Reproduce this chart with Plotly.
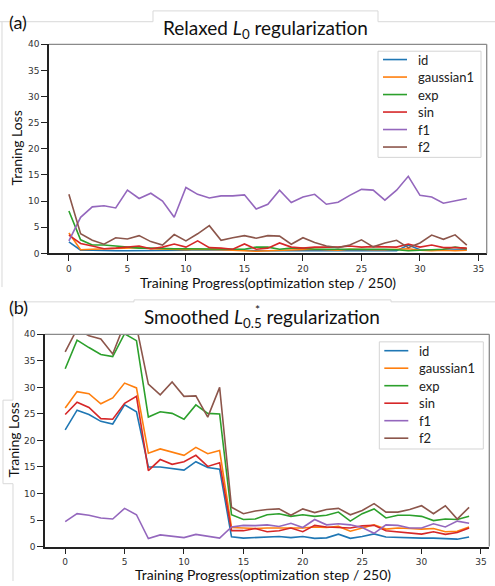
import plotly.graph_objects as go

W, H = 495, 586

steps = list(range(35))
series_names = ["id", "gaussian1", "exp", "sin", "f1", "f2"]
series_colors = ["#1f77b4", "#ff7f0e", "#2ca02c", "#d62728", "#9467bd", "#8c564b"]
x_ticks = [0, 5, 10, 15, 20, 25, 30, 35]
y_ticks = [0, 5, 10, 15, 20, 25, 30, 35, 40]

# ---- (a) Relaxed L0 regularization ----
a_id = [2.2, 0.6, 0.6, 0.5, 0.5, 0.5, 0.5, 0.5, 0.6, 0.6, 0.6, 0.7, 0.7, 0.7, 0.6, 0.6, 0.5, 0.5,
        0.6, 0.6, 0.5, 0.5, 0.6, 0.6, 0.6, 0.5, 0.6, 0.6, 0.5, 1.6, 0.7, 0.6, 0.6, 0.6, 0.7]
a_gaussian1 = [3.9, 0.7, 0.8, 0.9, 0.9, 1.0, 1.1, 0.9, 0.8, 0.7, 0.7, 0.8, 0.8, 0.7, 0.6, 0.5, 0.4, 0.5,
               0.6, 0.7, 0.8, 0.8, 0.7, 0.6, 0.8, 0.7, 0.7, 0.7, 0.8, 0.9, 0.6, 0.5, 0.6, 0.5, 0.6]
a_exp = [8.1, 2.6, 1.6, 1.6, 1.4, 1.2, 1.0, 1.0, 0.9, 0.9, 0.9, 0.9, 0.9, 0.8, 0.8, 0.8, 1.2, 1.2,
         0.8, 1.0, 1.0, 0.8, 0.8, 0.8, 0.9, 0.8, 0.8, 0.8, 0.7, 0.5, 0.6, 0.7, 0.8, 1.2, 0.9]
a_sin = [3.5, 1.9, 1.4, 0.9, 1.0, 1.2, 1.4, 0.9, 1.2, 1.8, 1.2, 2.4, 1.1, 1.0, 0.8, 1.8, 0.8, 1.0,
         2.0, 1.2, 1.0, 1.2, 1.2, 1.2, 1.4, 1.2, 1.3, 1.3, 1.2, 1.8, 1.2, 1.6, 1.1, 1.1, 1.0]
a_f1 = [2.4, 6.9, 8.9, 9.1, 8.7, 12.1, 10.5, 11.5, 10.0, 6.9, 12.6, 11.3, 10.6, 11.0, 11.0, 11.2, 8.5, 9.4,
        12.1, 9.75, 10.8, 11.3, 9.4, 9.8, 11.1, 12.25, 12.1, 10.2, 12.1, 14.75, 11.1, 10.8, 9.6, 10.0, 10.5]
a_f2 = [11.3, 3.75, 2.5, 1.75, 3.0, 2.75, 3.4, 2.25, 1.6, 3.6, 2.4, 3.75, 5.3, 2.5, 3.0, 3.4, 2.9, 3.4,
        3.3, 1.75, 3.0, 2.1, 1.4, 1.1, 1.6, 2.6, 1.25, 2.0, 2.5, 1.1, 2.0, 3.5, 2.7, 3.55, 1.6]

# ---- (b) Smoothed L*0.5 regularization ----
b_id = [22.0, 25.7, 24.9, 23.6, 23.1, 26.7, 25.4, 15.0, 15.0, 14.7, 14.4, 16.0, 14.9, 14.6, 1.85, 1.6, 1.7, 1.9,
        1.9, 1.7, 1.9, 1.55, 1.65, 2.35, 1.55, 1.9, 2.4, 1.8, 1.7, 1.65, 1.6, 1.6, 1.55, 1.4, 1.8]
b_gaussian1 = [26.1, 29.2, 28.8, 26.9, 28.0, 30.8, 29.9, 17.6, 18.4, 17.8, 17.2, 18.7, 17.5, 18.1, 3.6, 3.5, 3.4, 3.5,
               3.5, 3.5, 3.5, 3.7, 3.6, 3.8, 2.9, 3.5, 4.1, 3.3, 3.5, 3.4, 3.3, 3.4, 2.8, 2.9, 3.7]
b_exp = [33.5, 38.9, 37.5, 36.2, 35.8, 40.1, 38.8, 24.4, 25.4, 25.1, 24.0, 26.7, 25.1, 25.0, 6.0, 5.1, 5.2, 6.0,
         6.2, 5.7, 6.0, 5.7, 5.9, 6.5, 4.8, 6.2, 7.1, 5.4, 5.9, 5.9, 5.7, 4.9, 5.2, 5.1, 5.7]
b_sin = [24.9, 27.2, 26.2, 24.1, 24.0, 27.0, 28.3, 14.3, 16.4, 15.5, 16.0, 17.2, 15.1, 15.8, 3.0, 3.0, 3.4, 2.8,
         3.0, 3.5, 2.8, 4.0, 3.7, 3.6, 3.5, 3.9, 4.0, 3.0, 2.8, 2.5, 2.35, 2.8, 2.3, 2.65, 3.5]
b_f1 = [4.7, 6.2, 5.9, 5.4, 5.2, 7.2, 6.0, 1.5, 2.2, 2.0, 1.7, 2.3, 2.0, 1.6, 3.7, 4.0, 3.95, 4.1,
        3.8, 4.4, 3.6, 5.1, 4.1, 4.3, 4.1, 3.6, 2.5, 4.1, 4.0, 3.5, 3.5, 4.3, 3.7, 4.8, 4.4]
b_f2 = [36.7, 41.0, 39.7, 39.1, 36.3, 42.0, 41.5, 30.6, 28.6, 31.0, 28.3, 28.4, 24.4, 30.0, 7.4, 6.2, 6.7, 7.0,
        7.1, 5.9, 7.1, 6.4, 7.0, 7.2, 6.0, 6.8, 8.1, 6.5, 6.5, 7.0, 7.7, 6.2, 7.7, 5.2, 7.4]

panel_a = [a_id, a_gaussian1, a_exp, a_sin, a_f1, a_f2]
panel_b = [b_id, b_gaussian1, b_exp, b_sin, b_f1, b_f2]

TXT = "Lato, 'Open Sans', sans-serif"
TICK = "DejaVu Sans, sans-serif"


def px(x):
    return x / W


def py(y):
    return 1 - y / H


fig = go.Figure()
for vals, name, col in zip(panel_a, series_names, series_colors):
    fig.add_trace(go.Scatter(x=steps, y=vals, mode="lines", name=name, showlegend=False,
                             line=dict(color=col, width=1.6), xaxis="x", yaxis="y"))
for vals, name, col in zip(panel_b, series_names, series_colors):
    fig.add_trace(go.Scatter(x=steps, y=vals, mode="lines", name=name, showlegend=False,
                             line=dict(color=col, width=1.6), xaxis="x2", yaxis="y2"))

axis_common = dict(showgrid=False, zeroline=False, showline=True, linecolor="#222", linewidth=1.5,
                   ticks="outside", ticklen=6, tickwidth=1.4, tickcolor="#222",
                   ticklabeloverflow="allow",
                   tickfont=dict(family=TICK, size=9, color="#333"))

fig.update_layout(
    width=W, height=H, autosize=False,
    margin=dict(l=0, r=0, t=0, b=0),
    paper_bgcolor="white", plot_bgcolor="white",
    showlegend=False,
    xaxis=dict(domain=[px(49), px(486.7)], anchor="y", range=[-1.7, 35.7], tickvals=x_ticks, **axis_common),
    yaxis=dict(domain=[py(252.7), py(40)], anchor="x", range=[0, 40], tickvals=y_ticks, **axis_common),
    xaxis2=dict(domain=[px(45), px(489.3)], anchor="y2", range=[-1.7, 35.7], tickvals=x_ticks, **axis_common),
    yaxis2=dict(domain=[py(551), py(335)], anchor="x2", range=[0, 40], tickvals=y_ticks, **axis_common),
)

shapes = []
# grey top/right frame of each axes
for xr, yr in [("x domain", "y domain"), ("x2 domain", "y2 domain")]:
    shapes.append(dict(type="line", xref=xr, yref=yr, x0=0, x1=1, y0=1, y1=1,
                       line=dict(color="#8a8a8a", width=1.3)))
    shapes.append(dict(type="line", xref=xr, yref=yr, x0=1, x1=1, y0=0, y1=1,
                       line=dict(color="#8a8a8a", width=1.3)))

# faint panel outlines from the composed figure
faint = dict(color="#d9d9d9", width=1)
segs = [
    [(0, 17), (153, 17), (153, 6), (378, 6), (378, 17), (495, 17)],
    [(2, 17), (2, 287)],
    [(13, 302), (134, 302), (134, 300), (391, 300), (391, 302), (495, 302)],
    [(13, 302), (13, 402), (3, 402), (3, 487), (13, 487), (13, 586)],
]
for seg in segs:
    path = "M " + " L ".join(f"{px(x):.5f},{py(y):.5f}" for x, y in seg)
    shapes.append(dict(type="path", xref="paper", yref="paper", path=path, line=faint, layer="below"))

ann = []


def text(t, x, y, size, angle=0, xanchor="center", family=TXT, color="#111"):
    ann.append(dict(text=t, x=px(x), y=py(y), xref="paper", yref="paper", showarrow=False,
                    xanchor=xanchor, yanchor="middle", textangle=angle,
                    font=dict(family=family, size=size, color=color)))


# legends (box, line samples, labels)
for (bx0, by0, bx1, by1, first_y) in [(378, 47, 481, 155, 55.5), (379.3, 342.7, 483.3, 451.7, 351.7)]:
    shapes.append(dict(type="rect", xref="paper", yref="paper", x0=px(bx0), x1=px(bx1), y0=py(by1), y1=py(by0),
                       fillcolor="white", line=dict(color="#d4d4d4", width=1)))
    for k, (name, col) in enumerate(zip(series_names, series_colors)):
        yy = first_y + 17.8 * k
        shapes.append(dict(type="line", xref="paper", yref="paper", x0=px(bx0 + 5), x1=px(bx0 + 29),
                           y0=py(yy), y1=py(yy), line=dict(color=col, width=1.6)))
        text(name, bx0 + 38, yy, 13, xanchor="left", color="#222")

fig.update_layout(shapes=shapes)

text("(a)", 7, 17, 18, xanchor="left")
text("(b)", 7, 307, 18, xanchor="left")
text("Relaxed <i>L</i><sub>0</sub> regularization", 265, 24, 19)
text("Smoothed <i>L</i><sub>0.5</sub> regularization", 262, 318, 19)
text("*", 257, 310, 12)
text("Traning Loss", 17, 146, 14, angle=-90)
text("Traning Loss", 13, 443, 14, angle=-90)
text("Training Progress(optimization step / 250)", 268, 282, 14)
text("Training Progress(optimization step / 250)", 263, 579, 14)
fig.update_layout(annotations=ann)

fig.write_html("out.html",
               config={"displayModeBar": False},
               post_script="document.body.style.margin='0';document.body.style.overflow='hidden';")
